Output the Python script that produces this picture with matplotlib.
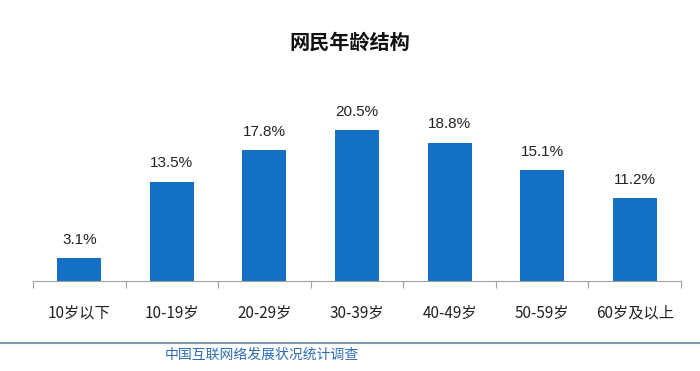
import matplotlib
matplotlib.use('Agg')
import matplotlib.pyplot as plt
import numpy as np

plt.rcParams['font.family'] = ['Noto Sans CJK SC', 'DejaVu Sans']

categories = ['10岁以下', '10-19岁', '20-29岁', '30-39岁', '40-49岁', '50-59岁', '60岁及以上']
values = [3.1, 13.5, 17.8, 20.5, 18.8, 15.1, 11.2]
labels = ['3.1%', '13.5%', '17.8%', '20.5%', '18.8%', '15.1%', '11.2%']

bar_color = '#1470c4'

fig = plt.figure(figsize=(7, 3.71), dpi=100)
ax = fig.add_axes([33 / 700, 1 - 281 / 371, 648 / 700, 181 / 371])

x = np.arange(len(categories))
ax.bar(x, values, width=0.475, color=bar_color)
for xi, v, lab in zip(x, values, labels):
    ax.text(xi, v + 1.5, lab, ha='center', va='bottom', fontsize=11,
            family=['Liberation Sans'], color='#222222')

ax.set_xlim(-0.5, len(categories) - 0.5)
ax.set_ylim(0, 24.57)
for s in ['top', 'right', 'left']:
    ax.spines[s].set_visible(False)
ax.spines['bottom'].set_color('#a0a0a0')
ax.set_yticks([])
ax.set_xticks(np.arange(-0.5, len(categories), 1.0))
ax.set_xticklabels([])
ax.tick_params(axis='x', length=5, color='#a0a0a0')
ax.set_xticks(x, minor=True)
ax.set_xticklabels(categories, minor=True, fontsize=11, color='#222222')
ax.tick_params(axis='x', which='minor', length=0, pad=17)

fig.text(0.5, 1 - 42 / 371, '网民年龄结构', ha='center', va='center',
         fontsize=14.5, fontweight='bold', color='#111111')

# footer
fig.add_artist(plt.Line2D([0, 1], [1 - 343 / 371, 1 - 343 / 371],
                          color='#7f9bb8', linewidth=1.5))
fig.text(165 / 700, 1 - 355 / 371, '中国互联网络发展状况统计调查', ha='left',
         va='center', fontsize=10, color='#2e6db4')

fig.savefig('out.png', dpi=100)
